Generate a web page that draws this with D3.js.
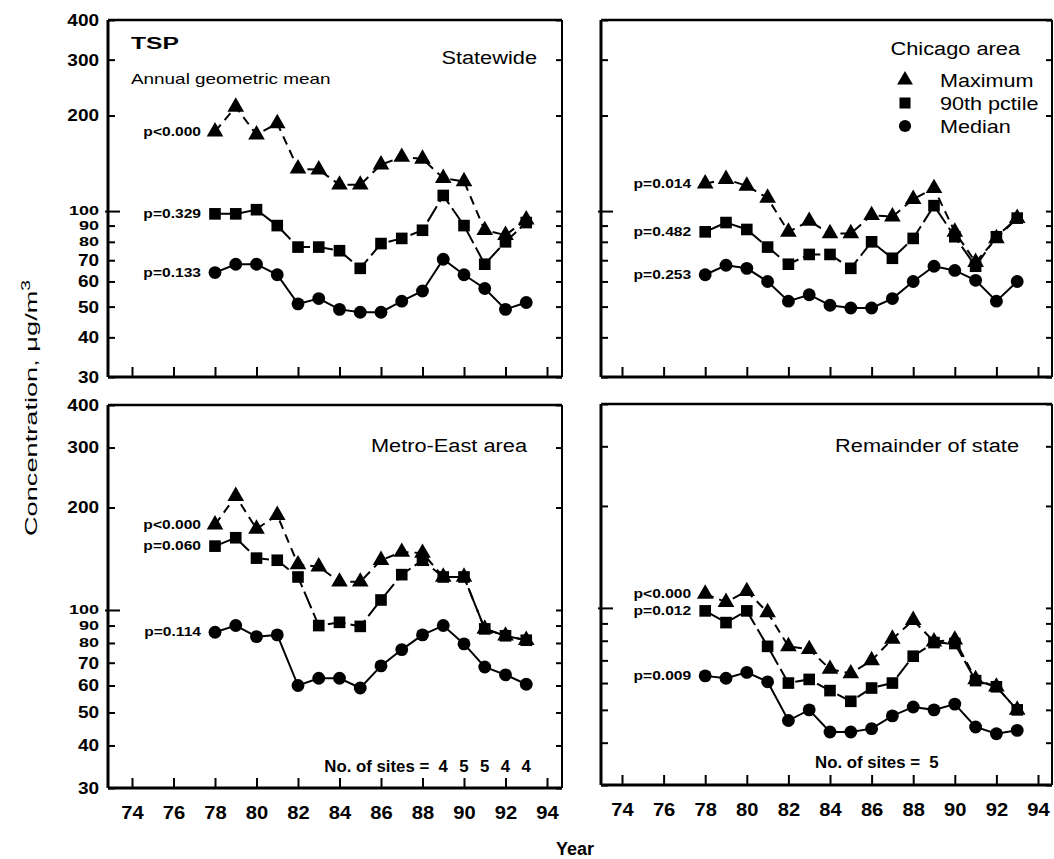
<!DOCTYPE html>
<html>
<head>
<meta charset="utf-8">
<script src="https://cdn.jsdelivr.net/npm/d3@7"></script>
<style>
  body { margin: 0; background: #fff; }
  svg { display: block; }
  text { font-family: "Liberation Sans", Arial, sans-serif; fill: #000; }
</style>
</head>
<body>
<div id="chart"></div>
<script>
// years on the x axis
var years = [78, 79, 80, 81, 82, 83, 84, 85, 86, 87, 88, 89, 90, 91, 92, 93];
var xTicks = [74, 76, 78, 80, 82, 84, 86, 88, 90, 92, 94];
var yTicks = [30, 40, 50, 60, 70, 80, 90, 100, 200, 300, 400];
var smallTicks = [80, 90, 100]; // squeezed labels

// Statewide
var stateMax = [178, 213, 174, 189, 136, 135, 121, 121, 140, 148, 146, 127, 124, 87, 84, 94];
var stateP90 = [98, 98, 101, 90, 77, 77, 75, 66, 79, 82, 87, 112, 90, 68, 80, 92];
var stateMed = [64, 68, 68, 63, 51, 53, 49, 48, 48, 52, 56, 70.5, 63, 57, 49, 51.5];

// Chicago area
var chiMax = [122, 126, 120, 110, 86, 93, 85, 85, 97, 96, 109, 118, 86, 69, 82, 95];
var chiP90 = [86, 92, 87.5, 77, 68, 73, 73, 66, 80, 71, 82, 104, 83, 67, 83, 95];
var chiMed = [63, 67.5, 66, 60, 52, 54.5, 50.5, 49.5, 49.5, 53, 60, 67, 65, 60.5, 52, 60];

// Metro-East area
var meMax = [178, 216, 173, 190, 136, 134, 121, 121, 140, 148, 147, 125, 125, 88, 84, 81.5];
var meP90 = [154, 163, 142, 140, 125, 90, 92, 89.5, 107, 127, 140, 125, 125, 88, 84, 81.5];
var meMed = [86, 90, 83.5, 84.5, 60, 63, 63, 59, 68.5, 76.5, 84.5, 90, 79.5, 68, 64.5, 60.5];

// Remainder of state
var remMax = [110, 104, 112, 97, 77, 75.5, 66, 64, 70, 81, 92, 79.5, 80.5, 61.5, 58.5, 50];
var remP90 = [98, 90.5, 98, 77, 60, 61.5, 57, 53, 58, 60, 72, 79, 78.5, 61, 58.5, 50];
var remMed = [63, 62, 64.5, 60.5, 46.5, 50, 43, 43, 44, 48, 51, 50, 52, 44.5, 42.5, 43.5];

var pState = ["p<0.000", "p=0.329", "p=0.133"];
var pChi = ["p=0.014", "p=0.482", "p=0.253"];
var pMe = ["p<0.000", "p=0.060", "p=0.114"];
var pRem = ["p<0.000", "p=0.012", "p=0.009"];

var seriesNames = ["Maximum", "90th pctile", "Median"];
var meSiteYears = [89, 90, 91, 92, 93];
var meSites = [4, 5, 5, 4, 4];
var remSiteYears = [89];
var remSites = [5];

var W = 1054, H = 859;
var svg = d3.select("#chart").append("svg").attr("width", W).attr("height", H);

var symbols = [d3.symbolTriangle, d3.symbolSquare, d3.symbolCircle];
var symSize = [120, 135, 130];
var dashes = ["9,6", "18,5", null];

// text helper, sx stretches the text horizontally like the scanned original
function label(g, x, y, s, o) {
  var t = g.append("g")
    .attr("transform", "translate(" + x + "," + y + ") rotate(" + (o.rot || 0) + ") scale(" + (o.sx || 1) + ",1)")
    .append("text")
    .attr("text-anchor", o.anchor || "start")
    .style("font-size", o.size + "px")
    .style("font-weight", o.weight || "normal")
    .text(s);
  return t;
}

var panels = [
  {name: "Statewide", x0: 108, x1: 562, y0: 20, y1: 377, xt: [132, 547], series: [stateMax, stateP90, stateMed], p: pState,
   tx: 537, ty: 64, xlab: false, ylab: true},
  {name: "Chicago area", x0: 601, x1: 1052, y0: 20, y1: 377, xt: [622, 1038], series: [chiMax, chiP90, chiMed], p: pChi,
   tx: 1020, ty: 55, xlab: false, ylab: false, legend: true},
  {name: "Metro-East area", x0: 108, x1: 562, y0: 405, y1: 788, xt: [132, 547], series: [meMax, meP90, meMed], p: pMe,
   tx: 527, ty: 452, xlab: true, ylab: true, sites: [meSiteYears, meSites], sy: 772},
  {name: "Remainder of state", x0: 601, x1: 1052, y0: 404, y1: 785, xt: [622, 1038], series: [remMax, remP90, remMed], p: pRem,
   tx: 1019, ty: 452, xlab: true, ylab: false, sites: [remSiteYears, remSites], sy: 768}
];

panels.forEach(function(P) {
  var g = svg.append("g");
  var x = d3.scaleLinear().domain([74, 94]).range(P.xt);
  var y = d3.scaleLog().domain([30, 400]).range([P.y1, P.y0]);

  // y axis left (inward ticks)
  var ya = g.append("g").attr("transform", "translate(" + P.x0 + ",0)")
    .call(d3.axisLeft(y).tickValues(yTicks).tickSize(-7).tickPadding(8)
      .tickFormat(P.ylab ? d3.format("d") : ""));
  ya.select(".domain").remove();
  ya.selectAll(".tick line").attr("stroke-width", 2).filter(function(d) { return d === 100; }).attr("x1", -3).attr("x2", 12);
  ya.selectAll(".tick text").style("font-size", "17px").style("font-weight", "bold")
    .attr("transform", "scale(1.12,1)");
  ya.selectAll(".tick text").filter(function(d) { return smallTicks.indexOf(d) >= 0; })
    .style("font-size", "12px").attr("transform", "scale(1.5,1)").attr("x", -6);

  // y axis right
  var yr = g.append("g").attr("transform", "translate(" + P.x1 + ",0)")
    .call(d3.axisRight(y).tickValues(yTicks).tickSize(-6).tickFormat(""));
  yr.select(".domain").remove();
  yr.selectAll(".tick line").attr("stroke-width", 2);

  // x axis
  var xa = g.append("g").attr("transform", "translate(0," + P.y1 + ")")
    .call(d3.axisBottom(x).tickValues(xTicks).tickSize(-10).tickPadding(18)
      .tickFormat(P.xlab ? d3.format("d") : ""));
  xa.select(".domain").remove();
  xa.selectAll(".tick line").attr("stroke-width", 2);
  xa.selectAll(".tick text").style("font-size", "18px").style("font-weight", "bold")
    .attr("transform", "scale(1.12,1)");

  // frame
  g.append("line").attr("x1", P.x0).attr("x2", P.x1).attr("y1", P.y0).attr("y2", P.y0).attr("stroke", "#000").attr("stroke-width", 2.5);
  g.append("line").attr("x1", P.x1).attr("x2", P.x1).attr("y1", P.y0).attr("y2", P.y1).attr("stroke", "#000").attr("stroke-width", 2);
  g.append("line").attr("x1", P.x0).attr("x2", P.x1).attr("y1", P.y1).attr("y2", P.y1).attr("stroke", "#000").attr("stroke-width", 3);
  g.append("line").attr("x1", P.x0).attr("x2", P.x0).attr("y1", P.y0).attr("y2", P.y1).attr("stroke", "#000").attr("stroke-width", 3);

  // series
  P.series.forEach(function(vals, i) {
    var pts = years.map(function(yr, k) { return [yr, vals[k]]; });
    var line = d3.line().x(function(d) { return x(d[0]); }).y(function(d) { return y(d[1]); });
    g.append("path").datum(pts).attr("d", line)
      .attr("fill", "none").attr("stroke", "#000").attr("stroke-width", 2)
      .attr("stroke-dasharray", dashes[i]);
    g.selectAll(".m" + i).data(pts).enter().append("path")
      .attr("transform", function(d) { return "translate(" + x(d[0]) + "," + y(d[1]) + ")"; })
      .attr("d", d3.symbol().type(symbols[i]).size(symSize[i]))
      .attr("fill", "#000");
    // p value label at the first point
    label(g, x(years[0]) - 14, y(vals[0]) + 4, P.p[i], {size: 12, weight: "bold", anchor: "end", sx: 1.3});
  });

  // panel title
  label(g, P.tx, P.ty, P.name, {size: 18, anchor: "end", sx: 1.21});

  if (P.sites) {
    var sy = P.sites[0], sn = P.sites[1];
    label(g, x(sy[0]) - 14, P.sy, "No. of sites =", {size: 16, weight: "bold", anchor: "end", sx: 1.05});
    sn.forEach(function(n, k) {
      label(g, x(sy[k]), P.sy, String(n), {size: 16, weight: "bold", anchor: "middle", sx: 1.05});
    });
  }

  if (P.legend) {
    seriesNames.forEach(function(s, i) {
      var ly = 80 + i * 23;
      g.append("path").attr("transform", "translate(905," + ly + ")")
        .attr("d", d3.symbol().type(symbols[i]).size(symSize[i] * 0.9)).attr("fill", "#000");
      label(g, 940, ly + 7, s, {size: 18, sx: 1.2});
    });
  }
});

// TSP heading
label(svg, 131, 49, "TSP", {size: 17, weight: "bold", sx: 1.45});
label(svg, 131, 84, "Annual geometric mean", {size: 14, sx: 1.35});

// axis titles
label(svg, 575, 855, "Year", {size: 18, weight: "bold", anchor: "middle"});
var yt = label(svg, 37, 408, "Concentration, μg/m", {size: 17, anchor: "middle", rot: -90, sx: 1.6});
yt.append("tspan").attr("dy", -7).style("font-size", "12px").text("3");
</script>
</body>
</html>
